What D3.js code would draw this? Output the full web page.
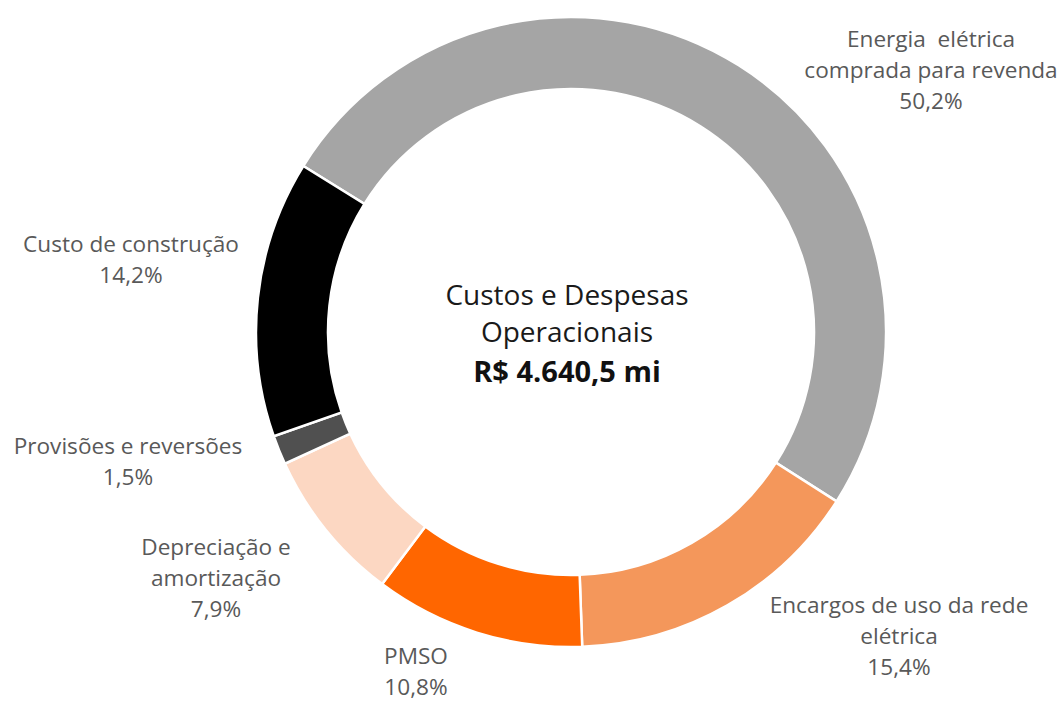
<!DOCTYPE html>
<html>
<head>
<meta charset="utf-8">
<script src="https://cdn.jsdelivr.net/npm/d3@7"></script>
<style>
  html, body { margin: 0; padding: 0; background: #fff; }
  svg { display: block; }
</style>
</head>
<body>
<svg id="chart" width="1061" height="701"></svg>
<script>
// data
const categories = [
  'Energia  elétrica comprada para revenda',
  'Encargos de uso da rede elétrica',
  'PMSO',
  'Depreciação e amortização',
  'Provisões e reversões',
  'Custo de construção'
];
const shares = [50.2, 15.4, 10.8, 7.9, 1.5, 14.2];
const shareLabels = ['50,2%', '15,4%', '10,8%', '7,9%', '1,5%', '14,2%'];
const centerTitle = ['Custos e Despesas', 'Operacionais'];
const centerTotal = 'R$ 4.640,5 mi';

// styles & layout
const colors = ['#a5a5a5', '#f4975b', '#ff6600', '#fcd7c2', '#505050', '#000000'];
// label lines (text wraps as in the source) and anchor of first baseline
const labelLayout = [
  {lines: ['Energia  elétrica', 'comprada para revenda'], x: 931, y: 47},
  {lines: ['Encargos de uso da rede', 'elétrica'], x: 899, y: 613},
  {lines: ['PMSO'], x: 416, y: 664},
  {lines: ['Depreciação e', 'amortização'], x: 216, y: 555},
  {lines: ['Provisões e reversões'], x: 128, y: 454},
  {lines: ['Custo de construção'], x: 131, y: 252}
];
const lineGap = 30.8;
const cx = 571, cy = 332, outerR = 315, innerR = 243;
const startAngle = -58.2 * Math.PI / 180;

const svg = d3.select('#chart');

const pie = d3.pie()
  .sort(null)
  .value(d => d.value)
  .startAngle(startAngle)
  .endAngle(startAngle + 2 * Math.PI);

const arc = d3.arc().innerRadius(innerR).outerRadius(outerR);

const rows = categories.map((c, i) => ({label: c, value: shares[i], pct: shareLabels[i], color: colors[i], layout: labelLayout[i]}));

const g = svg.append('g').attr('transform', `translate(${cx},${cy})`);

g.selectAll('path.slice')
  .data(pie(rows))
  .join('path')
    .attr('class', 'slice')
    .attr('d', arc)
    .attr('fill', d => d.data.color)
    .attr('stroke', '#fff')
    .attr('stroke-width', 2.5)
    .attr('stroke-linejoin', 'miter');

// slice labels
const labels = svg.selectAll('text.slice-label')
  .data(rows)
  .join('text')
    .attr('class', 'slice-label')
    .attr('text-anchor', 'middle')
    .attr('font-family', 'Open Sans, sans-serif')
    .attr('font-size', 22.6)
    .attr('fill', '#595959');

labels.each(function (d) {
  const t = d3.select(this);
  const lines = d.layout.lines.concat([d.pct]);
  lines.forEach((ln, j) => {
    t.append('tspan')
      .attr('x', d.layout.x)
      .attr('y', d.layout.y + j * lineGap)
      .attr('xml:space', 'preserve')
      .style('white-space', 'pre')
      .text(ln);
  });
});

// center text
const center = svg.append('g').attr('transform', `translate(567,0)`)
  .attr('font-family', 'Open Sans, sans-serif')
  .attr('text-anchor', 'middle');

center.selectAll('text.title')
  .data(centerTitle)
  .join('text')
    .attr('class', 'title')
    .attr('y', (d, i) => 305 + i * 37)
    .attr('font-size', 28)
    .attr('fill', '#1a1a1a')
    .text(d => d);

center.append('text')
  .attr('y', 382)
  .attr('font-size', 29)
  .attr('font-weight', 'bold')
  .attr('fill', '#111')
  .text(centerTotal);
</script>
</body>
</html>
